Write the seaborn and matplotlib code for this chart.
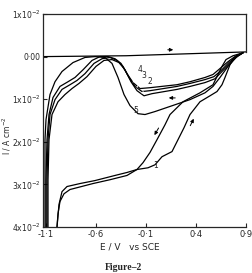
'''Cyclic voltammograms (Figure-2) redrawn with seaborn'''

import matplotlib
matplotlib.use('Agg')
import matplotlib.pyplot as plt
import seaborn as sns

# E in V vs SCE, I in units of 1e-2 A cm^-2 (cathodic negative)
e_zero = [-1.13, -0.3, 0.9]
i_zero = [0.0, 0.02, 0.11]

e_c1_fwd = [-0.99, -0.97, -0.94, -0.89, -0.76, -0.61, -0.41, -0.29, -0.19, -0.08, -0.01,
            0.06, 0.16, 0.22, 0.28, 0.34, 0.44, 0.54, 0.61, 0.66, 0.69, 0.74, 0.79, 0.87]
i_c1_fwd = [-4.0, -3.47, -3.17, -3.05, -2.98, -2.91, -2.79, -2.72, -2.65, -2.61, -2.54,
            -2.35, -2.23, -1.95, -1.67, -1.36, -1.06, -0.92, -0.82, -0.66, -0.49, -0.19, -0.02, 0.09]

e_c1_rev = [0.87, 0.77, 0.70, 0.66, 0.62, 0.57, 0.44, 0.27, 0.14, 0.09, 0.01, -0.06, -0.13,
            -0.19, -0.29, -0.46, -0.63, -0.86, -0.92, -0.96, -0.98, -0.99]
i_c1_rev = [0.09, 0.02, -0.07, -0.23, -0.42, -0.66, -0.85, -1.06, -1.36, -1.60, -1.95, -2.25, -2.49,
            -2.65, -2.79, -2.89, -2.98, -3.12, -3.22, -3.40, -3.69, -4.0]

e_c2 = [-1.08, -1.08, -1.07, -1.04, -0.98, -0.91, -0.84, -0.77, -0.69, -0.60, -0.52, -0.44, -0.37,
        -0.31, -0.25, -0.19, -0.12, -0.04, 0.21, 0.34, 0.49, 0.59, 0.66, 0.74, 0.82, 0.87]
i_c2 = [-4.0, -2.89, -1.95, -1.36, -1.06, -0.89, -0.75, -0.63, -0.47, -0.23, -0.09, -0.07, -0.14,
        -0.31, -0.59, -0.80, -0.92, -0.87, -0.77, -0.70, -0.61, -0.52, -0.35, -0.16, 0.02, 0.09]

e_c3 = [-1.09, -1.09, -1.08, -1.06, -1.01, -0.94, -0.86, -0.79, -0.71, -0.62, -0.54, -0.46, -0.39,
        -0.33, -0.27, -0.21, -0.14, -0.06, 0.21, 0.34, 0.49, 0.58, 0.65, 0.73, 0.81, 0.87]
i_c3 = [-4.0, -2.89, -1.95, -1.36, -1.01, -0.77, -0.66, -0.56, -0.40, -0.16, -0.05, -0.02, -0.09,
        -0.23, -0.49, -0.70, -0.82, -0.80, -0.70, -0.63, -0.54, -0.47, -0.33, -0.14, 0.02, 0.09]

e_c4 = [-1.10, -1.10, -1.09, -1.07, -1.03, -0.96, -0.88, -0.81, -0.73, -0.64, -0.56, -0.48, -0.41,
        -0.35, -0.29, -0.23, -0.16, -0.06, 0.21, 0.34, 0.49, 0.57, 0.64, 0.72, 0.80, 0.87]
i_c4 = [-4.0, -2.89, -1.95, -1.36, -0.96, -0.70, -0.59, -0.49, -0.31, -0.09, 0.0, 0.0, -0.05,
        -0.16, -0.40, -0.61, -0.75, -0.73, -0.66, -0.59, -0.49, -0.42, -0.28, -0.12, 0.02, 0.09]

e_c5 = [-1.11, -1.11, -1.11, -1.10, -1.06, -1.01, -0.94, -0.83, -0.71, -0.61, -0.51, -0.44, -0.38,
        -0.32, -0.26, -0.18, -0.11, -0.01, 0.14, 0.34, 0.49, 0.57, 0.64, 0.72, 0.80, 0.87]
i_c5 = [-4.0, -2.89, -1.95, -1.48, -0.89, -0.59, -0.35, -0.14, -0.02, 0.0, -0.02, -0.16, -0.49,
        -0.89, -1.15, -1.34, -1.36, -1.29, -1.17, -1.01, -0.85, -0.70, -0.49, -0.23, -0.02, 0.09]

x_ticks = [-1.1, -0.6, -0.1, 0.4, 0.9]
x_labels = ['-1·1', '-0·6', '-0·1', '0·4', '0·9']
y_ticks = [1, 0, -1, -2, -3, -4]
y_labels = ['1x10$^{-2}$', '0·00', '1x10$^{-2}$', '2x10$^{-2}$', '3x10$^{-2}$', '4x10$^{-2}$']

sns.set_style('ticks')
plt.rcParams['font.family'] = ['DejaVu Sans']

fig = plt.figure(figsize=(2.52, 2.73), dpi=100)
ax = fig.add_axes([43 / 252, 46 / 273, 203 / 252, 213 / 273])

curves = [(e_zero, i_zero), (e_c1_fwd, i_c1_fwd), (e_c1_rev, i_c1_rev), (e_c2, i_c2),
          (e_c3, i_c3), (e_c4, i_c4), (e_c5, i_c5)]
for e, i in curves:
    sns.lineplot(x=e, y=i, sort=False, estimator=None, color='black', lw=0.9, ax=ax)

ax.set_xlim(-1.13, 0.9)
ax.set_ylim(-4.0, 1.0)
ax.set_xticks(x_ticks)
ax.set_xticklabels(x_labels, fontsize=6)
ax.set_yticks(y_ticks)
ax.set_yticklabels(y_labels, fontsize=5.5)
ax.tick_params(direction='in', length=3, width=0.8, pad=2)
for side in ['left', 'bottom', 'top', 'right']:
    ax.spines[side].set_linewidth(0.9)
ax.spines['right'].set_bounds(0.1, 1.0)

ax.set_xlabel('E / V   vs SCE', fontsize=6.5)
ax.xaxis.set_label_coords(0.43, -0.075)
ax.set_ylabel('I / A cm$^{-2}$', fontsize=5.5)
ax.yaxis.set_label_coords(-0.148, 0.43)

# curve numbers and scan direction arrows
kw = dict(fontsize=5.5, ha='center', va='center')
ax.text(0.0, -2.56, '1', **kw)
ax.text(-0.20, -1.27, '5', **kw)
ax.annotate('4', xy=(-0.23, -0.60), xytext=(-0.16, -0.31), arrowprops=dict(arrowstyle='-', lw=0.6), **kw)
ax.annotate('3', xy=(-0.19, -0.72), xytext=(-0.12, -0.44), arrowprops=dict(arrowstyle='-', lw=0.6), **kw)
ax.annotate('2', xy=(-0.14, -0.86), xytext=(-0.06, -0.58), arrowprops=dict(arrowstyle='-', lw=0.6), **kw)

arrow = dict(arrowstyle='-|>', lw=0.7, color='black', mutation_scale=5)
ax.annotate('', xy=(0.20, 0.16), xytext=(0.09, 0.16), arrowprops=arrow)
ax.annotate('', xy=(0.10, -0.97), xytext=(0.22, -0.97), arrowprops=arrow)
ax.annotate('', xy=(-0.03, -1.90), xytext=(0.04, -1.62), arrowprops=arrow)
ax.annotate('', xy=(0.39, -1.40), xytext=(0.33, -1.68), arrowprops=arrow)

fig.text(123 / 252, 1 - 268 / 273, 'Figure–2', fontsize=7, fontweight='bold',
         family='Liberation Serif', ha='center', va='center')

fig.savefig('out.png', dpi=100)
